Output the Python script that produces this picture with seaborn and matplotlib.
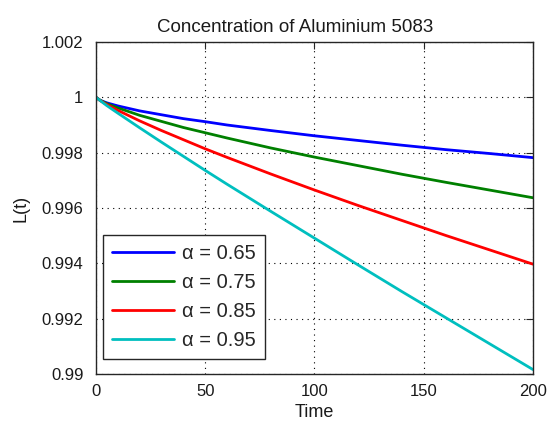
import matplotlib
matplotlib.use("Agg")
import matplotlib.pyplot as plt
import seaborn as sns
import pandas as pd

# Time samples and L(t) for each fractional order alpha
time = [0, 2, 5, 10, 20, 30, 40, 50, 60, 80, 100, 120, 140, 160, 180, 200]
L_065 = [1.0, 0.99989, 0.99980, 0.99969, 0.99951, 0.99937, 0.99923, 0.99912,
         0.99900, 0.99880, 0.99861, 0.99844, 0.99827, 0.99811, 0.99797, 0.99782]
L_075 = [1.0, 0.99989, 0.99977, 0.99962, 0.99935, 0.99913, 0.99891, 0.99872,
         0.99853, 0.99817, 0.99784, 0.99753, 0.99722, 0.99693, 0.99665, 0.99637]
L_085 = [1.0, 0.99988, 0.99974, 0.99953, 0.99915, 0.99880, 0.99847, 0.99814,
         0.99783, 0.99723, 0.99665, 0.99609, 0.99555, 0.99501, 0.99449, 0.99397]
L_095 = [1.0, 0.99988, 0.99970, 0.99943, 0.99890, 0.99838, 0.99787, 0.99736,
         0.99686, 0.99588, 0.99491, 0.99394, 0.99298, 0.99204, 0.99110, 0.99016]
labels = ["α = 0.65", "α = 0.75", "α = 0.85", "α = 0.95"]
colors = ["#0000ff", "#008000", "#ff0000", "#00bfbf"]

x_ticks = [0, 50, 100, 150, 200]
y_ticks = [0.99, 0.992, 0.994, 0.996, 0.998, 1.0, 1.002]
y_tick_labels = ["0.99", "0.992", "0.994", "0.996", "0.998", "1", "1.002"]

frames = []
for lab, vals in zip(labels, [L_065, L_075, L_085, L_095]):
    frames.append(pd.DataFrame({"Time": time, "L": vals, "alpha": lab}))
df = pd.concat(frames, ignore_index=True)

sns.set_style("white")
plt.rcParams["font.family"] = ["Liberation Sans", "DejaVu Sans"]

fig = plt.figure(figsize=(5.48, 4.25), dpi=100)
ax = fig.add_axes([0.175, 0.12, 0.7976, 0.7812])

sns.lineplot(data=df, x="Time", y="L", hue="alpha", hue_order=labels,
             palette=colors, linewidth=2, ax=ax, legend=True)

ax.set_xlim(0, 200)
ax.set_ylim(0.99, 1.002)
ax.set_xticks(x_ticks)
ax.set_yticks(y_ticks)
ax.set_yticklabels(y_tick_labels)

ax.grid(True, linestyle=(0, (1, 4)), color="black", linewidth=0.8)
ax.tick_params(direction="in", length=5, top=True, right=True,
               labelsize=12, colors="#262626", width=0.8)
ax.tick_params(axis="y", pad=9)
ax.tick_params(axis="x", pad=7)
for tl in ax.get_xticklabels() + ax.get_yticklabels():
    tl.set_color("#1a1a1a")
for s in ax.spines.values():
    s.set_color("#262626")
    s.set_linewidth(1.0)

ax.set_title("Concentration of Aluminium 5083", fontsize=13.5, color="#1a1a1a",
             pad=7, x=0.455)
ax.set_xlabel("Time", fontsize=13, color="#1a1a1a", labelpad=4)
ax.set_ylabel("L(t)", fontsize=13, color="#1a1a1a", labelpad=9)

handles, labs = ax.get_legend_handles_labels()
leg = ax.legend(handles, labs, loc="lower left", bbox_to_anchor=(0.016, 0.045),
                fontsize=14.5, frameon=True, fancybox=False, framealpha=1,
                edgecolor="#262626", handlelength=3.1, handletextpad=0.4,
                borderpad=0.45, labelspacing=0.5, borderaxespad=0)
leg.get_frame().set_linewidth(1.0)
for line in leg.get_lines():
    line.set_linewidth(2)

fig.savefig("out.png", dpi=100, facecolor="white")
